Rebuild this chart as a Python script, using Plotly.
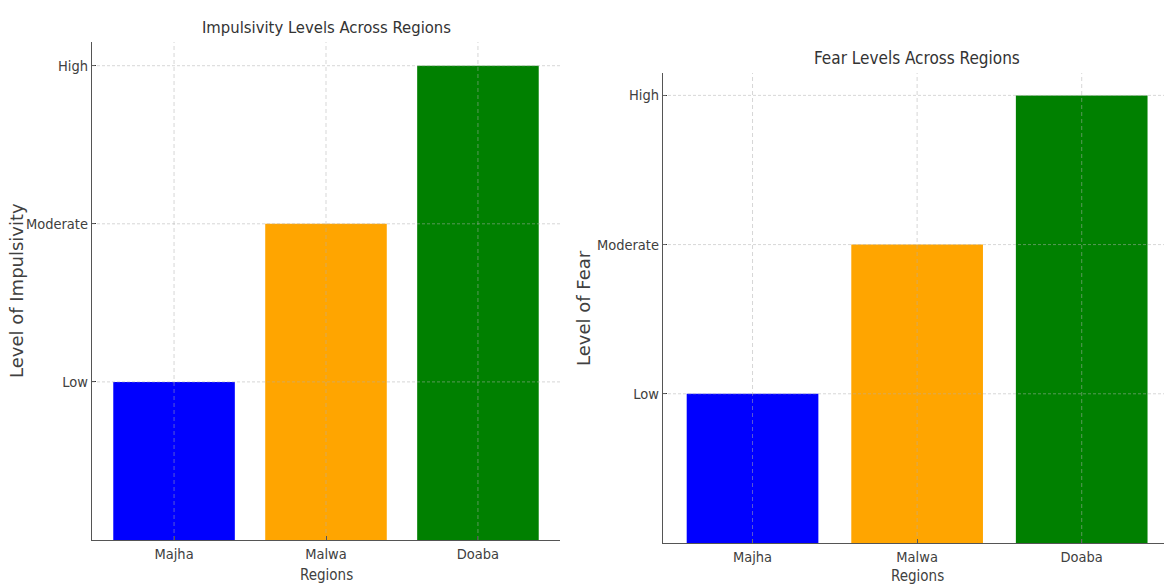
import plotly.graph_objects as go
from plotly.subplots import make_subplots

regions = ["Majha", "Malwa", "Doaba"]
impulsivity = [1, 2, 3]
fear = [1, 2, 3]
level_labels = ["Low", "Moderate", "High"]
level_values = [1, 2, 3]
bar_colors = ["#0000ff", "#ffa500", "#008000"]

W, H = 1164, 584
COND = "DejaVu Sans Condensed, Liberation Sans Narrow, DejaVu Sans, sans-serif"
NORM = "DejaVu Sans, sans-serif"
TXT = "#404040"
AXC = "#555555"
GRID = "rgba(175,175,175,0.5)"


def px_x(p):
    return p / W


def px_y(p):
    return 1 - p / H


fig = make_subplots(rows=1, cols=2)

fig.add_trace(go.Bar(x=regions, y=impulsivity, marker_color=bar_colors,
                     marker_line_width=0, width=0.8), row=1, col=1)
fig.add_trace(go.Bar(x=regions, y=fear, marker_color=bar_colors,
                     marker_line_width=0, width=0.8), row=1, col=2)

panels = [
    dict(xa="xaxis", ya="yaxis", xr="x", yr="y",
         xdom=[px_x(92), px_x(560)], ydom=[px_y(540), px_y(42)],
         xrange=[-0.54, 2.54]),
    dict(xa="xaxis2", ya="yaxis2", xr="x2", yr="y2",
         xdom=[px_x(663), 1.0], ydom=[px_y(543), px_y(73)],
         xrange=[-0.544, 2.50]),
]

for p in panels:
    fig.layout[p["xa"]].update(
        domain=p["xdom"], range=p["xrange"], showgrid=False,
        showline=True, linecolor=AXC, linewidth=1.3,
        ticks="inside", ticklen=4, tickcolor="#333333",
        tickfont=dict(family=COND, size=14.5, color=TXT), zeroline=False,
        fixedrange=True)
    fig.layout[p["ya"]].update(
        domain=p["ydom"], range=[0, 3.15], showgrid=False,
        showline=True, linecolor=AXC, linewidth=1.3,
        ticks="inside", ticklen=4, tickcolor="#333333",
        tickmode="array", tickvals=level_values, ticktext=level_labels,
        tickfont=dict(family=COND, size=14.5, color=TXT), zeroline=False,
        fixedrange=True)
    # dashed grid drawn on top of the bars
    for v in level_values:
        fig.add_shape(type="line", xref=p["xr"] + " domain", yref=p["yr"],
                      x0=0, x1=1, y0=v, y1=v, layer="above",
                      line=dict(color=GRID, width=1, dash="3px,2px"))
    for r in regions:
        fig.add_shape(type="line", xref=p["xr"], yref=p["yr"] + " domain",
                      x0=r, x1=r, y0=0, y1=1, layer="above",
                      line=dict(color=GRID, width=1, dash="4px,3px"))

texts = [
    ("Impulsivity Levels Across Regions", 326, 27, 0, COND, 16.5, "#333333"),
    ("Fear Levels Across Regions", 917, 58, 0, COND, 17, "#333333"),
    ("Regions", 326, 575, 0, COND, 15, TXT),
    ("Regions", 917, 576, 0, COND, 15, TXT),
    ("Level of Impulsivity", 16, 291, -90, NORM, 18, TXT),
    ("Level of Fear", 583, 308, -90, NORM, 18, TXT),
]
for t, x, y, ang, fam, sz, col in texts:
    fig.add_annotation(text=t, x=px_x(x), y=px_y(y), xref="paper", yref="paper",
                       showarrow=False, textangle=ang, xanchor="center",
                       yanchor="middle", font=dict(family=fam, size=sz, color=col))

fig.update_layout(width=W, height=H, margin=dict(l=0, r=0, t=0, b=0),
                  paper_bgcolor="white", plot_bgcolor="white",
                  showlegend=False, bargap=0.2)

fig.write_html("out.html")
